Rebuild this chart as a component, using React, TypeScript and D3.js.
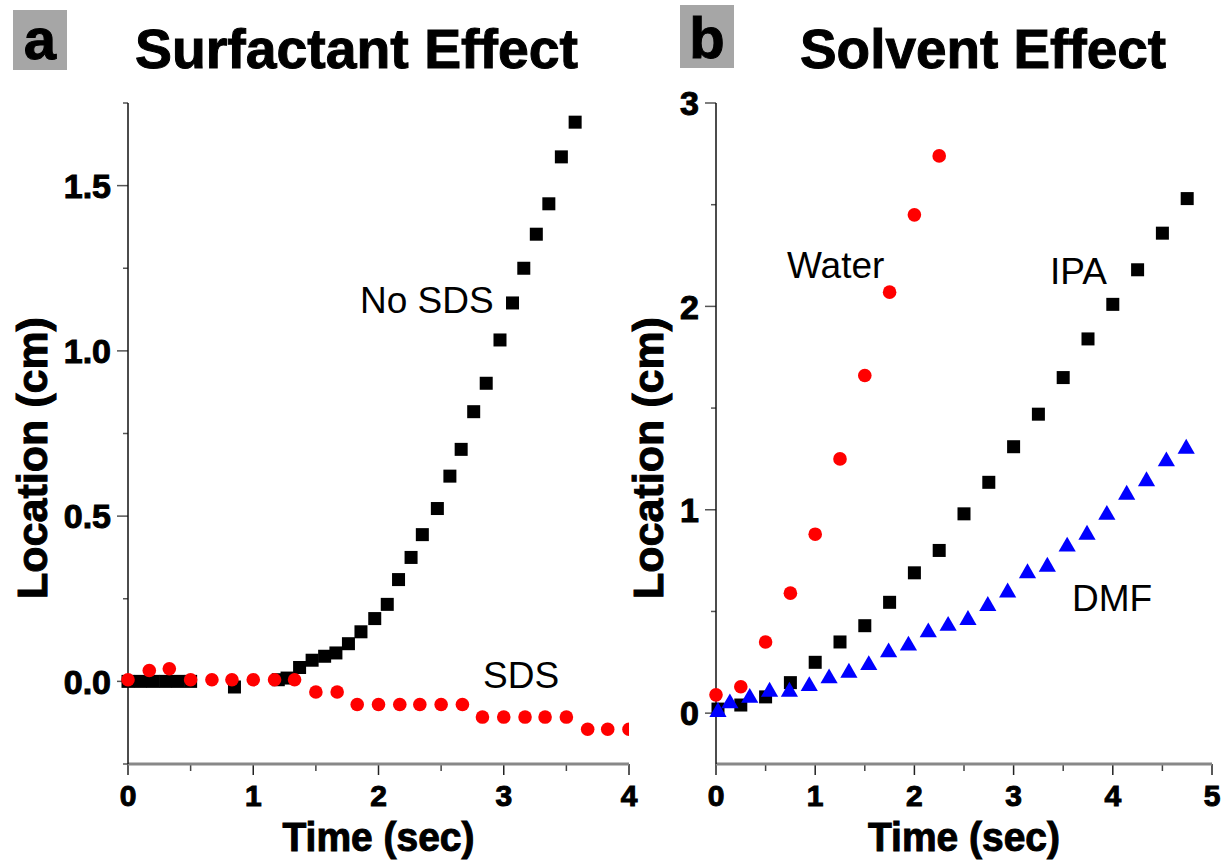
import React from 'react';
import { scaleLinear, range, symbol, symbolTriangle } from 'd3';

// panel a: surfactant effect
const noSdsTime = [0, 0.1, 0.2, 0.3, 0.4, 0.5, 0.85, 1.2, 1.27, 1.37, 1.47, 1.57, 1.66, 1.76, 1.86, 1.97, 2.07, 2.16, 2.26, 2.35, 2.47, 2.57, 2.66, 2.76, 2.86, 2.97, 3.07, 3.16, 3.26, 3.36, 3.46, 3.57];
const noSdsLoc = [0, 0, 0, 0, 0, 0, -0.017, 0.005, 0.01, 0.042, 0.064, 0.076, 0.086, 0.114, 0.15, 0.19, 0.233, 0.308, 0.375, 0.444, 0.523, 0.621, 0.702, 0.816, 0.902, 1.033, 1.145, 1.25, 1.353, 1.445, 1.587, 1.692];
const sdsTime = [0, 0.17, 0.33, 0.5, 0.67, 0.83, 1.0, 1.17, 1.33, 1.5, 1.67, 1.83, 2.0, 2.17, 2.33, 2.5, 2.67, 2.83, 3.0, 3.17, 3.33, 3.5, 3.67, 3.83, 4.0];
const sdsLoc = [0.005, 0.033, 0.038, 0.005, 0.005, 0.005, 0.005, 0.005, 0.005, -0.032, -0.032, -0.07, -0.07, -0.07, -0.07, -0.07, -0.07, -0.108, -0.108, -0.108, -0.108, -0.108, -0.145, -0.145, -0.145];

// panel b: solvent effect
const waterTime = [0, 0.25, 0.5, 0.75, 1.0, 1.25, 1.5, 1.75, 2.0, 2.25];
const waterLoc = [0.09, 0.13, 0.35, 0.59, 0.88, 1.25, 1.66, 2.07, 2.45, 2.74];
const ipaTime = [0.02, 0.25, 0.5, 0.75, 1.0, 1.25, 1.5, 1.75, 2.0, 2.25, 2.5, 2.75, 3.0, 3.25, 3.5, 3.75, 4.0, 4.25, 4.5, 4.75];
const ipaLoc = [0.02, 0.04, 0.08, 0.15, 0.25, 0.35, 0.43, 0.545, 0.69, 0.8, 0.98, 1.135, 1.31, 1.47, 1.65, 1.84, 2.01, 2.18, 2.36, 2.53];
const dmfTime = [0.02, 0.14, 0.34, 0.54, 0.74, 0.94, 1.14, 1.34, 1.54, 1.74, 1.94, 2.14, 2.34, 2.54, 2.74, 2.94, 3.14, 3.34, 3.54, 3.74, 3.94, 4.14, 4.34, 4.54, 4.74];
const dmfLoc = [0.006, 0.048, 0.075, 0.105, 0.105, 0.133, 0.171, 0.199, 0.236, 0.299, 0.332, 0.397, 0.429, 0.458, 0.527, 0.593, 0.688, 0.72, 0.819, 0.877, 0.975, 1.074, 1.14, 1.238, 1.3];

const yTicksA = ['0.0', '0.5', '1.0', '1.5'];
const yTicksB = ['0', '1', '2', '3'];

const font = '"Liberation Sans", Arial, Helvetica, sans-serif';

const xA = scaleLinear().domain([0, 4]).range([128, 629]);
const yA = scaleLinear().domain([-0.25, 1.75]).range([764, 103]);
const xB = scaleLinear().domain([0, 5]).range([716, 1212]);
const yB = scaleLinear().domain([-0.25, 3]).range([764, 103]);

const tri = symbol().type(symbolTriangle).size(128)();

// heavy text: bold plus a thin outline, closer to the original's black face
const heavy = { fontFamily: font, fontWeight: 'bold', stroke: '#000', strokeWidth: 1, paintOrder: 'stroke' };

function Axes({ x, y, xMajor, xMinor, yMajor, yMinor, yLabels, labelX }) {
  const [x0, x1] = x.range();
  const [y0, y1] = y.range();
  return (
    <g>
      {xMinor.map((t) => (
        <line key={'xm' + t} x1={x(t)} x2={x(t)} y1={y0} y2={y0 + 7} stroke="#444" strokeWidth={1.5} />
      ))}
      {xMajor.map((t) => (
        <g key={'xM' + t}>
          <line x1={x(t)} x2={x(t)} y1={y0} y2={y0 + 11} stroke="#222" strokeWidth={1.5} />
          <text x={x(t)} y={806} textAnchor="middle" fontSize={30} style={heavy} strokeWidth={0.6}>{t}</text>
        </g>
      ))}
      <line x1={x0} x2={x1} y1={y0} y2={y0} stroke="#888" strokeWidth={3} />
      {yMinor.map((t) => (
        <line key={'ym' + t} x1={x0 - 5} x2={x0} y1={y(t)} y2={y(t)} stroke="#555" strokeWidth={1.5} />
      ))}
      {yMajor.map((t, i) => (
        <g key={'yM' + t}>
          <line x1={x0 - 11} x2={x0} y1={y(t)} y2={y(t)} stroke="#555" strokeWidth={1.5} />
          <text x={x0 - 17} y={y(t)} dy="0.36em" textAnchor="end" fontSize={34} style={heavy} strokeWidth={0.6}>{yLabels[i]}</text>
        </g>
      ))}
      <line x1={x0} x2={x0} y1={y0} y2={y1} stroke="#111" strokeWidth={1.5} />
      <text x={(x0 + x1) / 2} y={851} textAnchor="middle" fontSize={40} textLength={192} lengthAdjust="spacingAndGlyphs" style={heavy}>Time (sec)</text>
      <text transform={`translate(${labelX},458) rotate(-90)`} textAnchor="middle" fontSize={43} style={heavy}>Location (cm)</text>
    </g>
  );
}

function Squares({ x, y, ts, vs }) {
  return (
    <g fill="#000">
      {ts.map((t, i) => (
        <rect key={i} x={x(t) - 6.5} y={y(vs[i]) - 6.5} width={13} height={13} />
      ))}
    </g>
  );
}

function Circles({ x, y, ts, vs }) {
  return (
    <g fill="#ff0000">
      {ts.map((t, i) => (
        <circle key={i} cx={x(t)} cy={y(vs[i])} r={6.8} />
      ))}
    </g>
  );
}

export default function App() {
  return (
    <svg width={1228} height={861} style={{ position: 'absolute', left: 0, top: 0, display: 'block', background: '#fff' }}>
      <defs>
        <clipPath id="clipA">
          <rect x={100} y={90} width={529} height={680} />
        </clipPath>
      </defs>

      {/* panel labels and titles */}
      <rect x={13} y={10} width={54} height={60} fill="#a6a6a6" />
      <text x={40} y={59} textAnchor="middle" fontSize={58} style={heavy}>a</text>
      <text x={135} y={68} fontSize={55} textLength={443} lengthAdjust="spacingAndGlyphs" style={heavy} strokeWidth={1.6}>Surfactant Effect</text>
      <rect x={680} y={5} width={54} height={63} fill="#a6a6a6" />
      <text x={707} y={58} textAnchor="middle" fontSize={58} style={heavy}>b</text>
      <text x={800} y={68} fontSize={55} textLength={366} lengthAdjust="spacingAndGlyphs" style={heavy} strokeWidth={1.6}>Solvent Effect</text>

      <Axes x={xA} y={yA} xMajor={range(0, 4.01, 1)} xMinor={range(0.5, 4, 1)} yMajor={[0, 0.5, 1, 1.5]} yMinor={range(-0.25, 1.8, 0.5)} yLabels={yTicksA} labelX={47} />
      <Axes x={xB} y={yB} xMajor={range(0, 5.01, 1)} xMinor={range(0.5, 5, 1)} yMajor={[0, 1, 2, 3]} yMinor={range(0.5, 3, 1)} yLabels={yTicksB} labelX={663} />

      <g clipPath="url(#clipA)">
        <Squares x={xA} y={yA} ts={noSdsTime} vs={noSdsLoc} />
        <Circles x={xA} y={yA} ts={sdsTime} vs={sdsLoc} />
      </g>

      <Circles x={xB} y={yB} ts={waterTime} vs={waterLoc} />
      <Squares x={xB} y={yB} ts={ipaTime} vs={ipaLoc} />
      <g fill="#0000ff">
        {dmfTime.map((t, i) => (
          <path key={i} d={tri} transform={`translate(${xB(t)},${yB(dmfLoc[i])})`} />
        ))}
      </g>

      <g fontFamily={font} fontSize={37}>
        <text x={360} y={313}>No SDS</text>
        <text x={483} y={688}>SDS</text>
        <text x={787} y={278}>Water</text>
        <text x={1050} y={284}>IPA</text>
        <text x={1072} y={611}>DMF</text>
      </g>
    </svg>
  );
}
